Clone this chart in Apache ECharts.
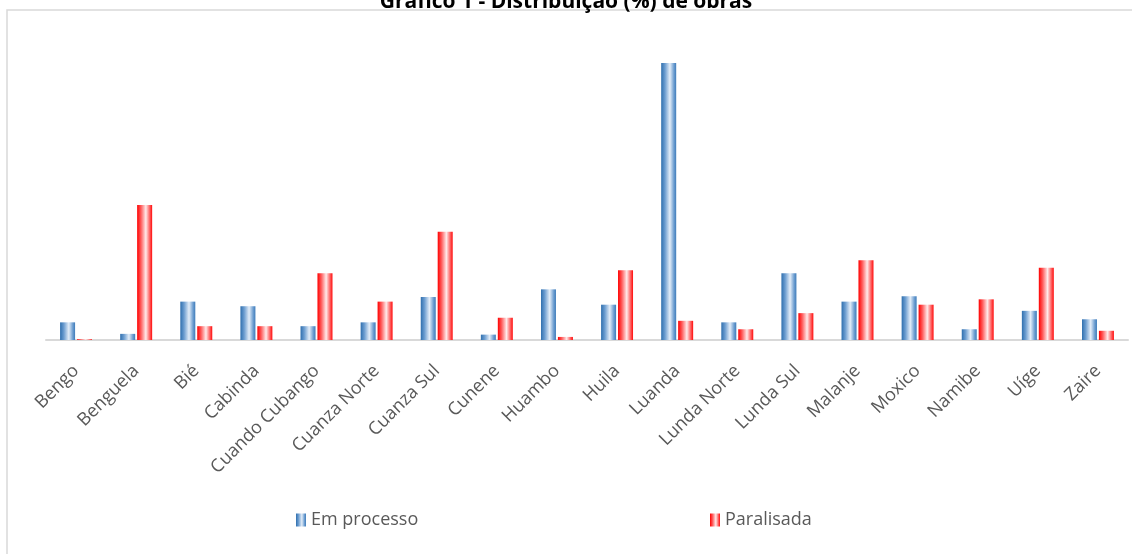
<!DOCTYPE html>
<html>
<head>
<meta charset="utf-8">
<script src="https://cdn.jsdelivr.net/npm/echarts@6/dist/echarts.min.js"></script>
<style>
  html, body { margin: 0; padding: 0; background: #ffffff; }
  #chart { width: 1132px; height: 554px; }
</style>
</head>
<body>
<div id="chart"></div>
<script>
// Províncias
const categories = ['Bengo', 'Benguela', 'Bié', 'Cabinda', 'Cuando Cubango', 'Cuanza Norte',
  'Cuanza Sul', 'Cunene', 'Huambo', 'Huila', 'Luanda', 'Lunda Norte', 'Lunda Sul',
  'Malanje', 'Moxico', 'Namibe', 'Uíge', 'Zaire'];

// Distribuição (%) de obras
const emProcesso = [2.3, 0.8, 5.0, 4.4, 1.8, 2.3, 5.6, 0.7, 6.6, 4.6, 36.1, 2.3, 8.7, 5.0, 5.7, 1.4, 3.8, 2.7];
const paralisada = [0.1, 17.6, 1.8, 1.8, 8.7, 5.0, 14.1, 2.9, 0.4, 9.1, 2.5, 1.4, 3.5, 10.4, 4.6, 5.3, 9.4, 1.2];

const seriesNames = ['Em processo', 'Paralisada'];

// Horizontal gradient giving each bar a rounded, cylinder-like shading
function cylinder(edge, mid, light, right) {
  return new echarts.graphic.LinearGradient(0, 0, 1, 0, [
    { offset: 0, color: edge },
    { offset: 0.25, color: mid },
    { offset: 0.58, color: light },
    { offset: 0.85, color: mid },
    { offset: 1, color: right }
  ]);
}

const blueFill = cylinder('#2f6fae', '#6c9dd0', '#e3edf8', '#3f7cba');
const redFill = cylinder('#ff0000', '#ff5a5a', '#ffeaea', '#ff0a0a');

const labelFont = 'Open Sans';

const chart = echarts.init(document.getElementById('chart'));
chart.setOption({
  animation: false,
  backgroundColor: '#ffffff',
  title: {
    text: 'Gráfico 1 - Distribuição (%) de obras',
    left: 'center',
    top: -13,
    textStyle: { fontFamily: labelFont, fontSize: 21, fontWeight: 'bold', color: '#000000' }
  },
  graphic: [{
    type: 'rect',
    shape: { x: 7, y: 10, width: 1140, height: 560 },
    style: { fill: 'none', stroke: '#d9d9d9', lineWidth: 1.5 },
    silent: true,
    z: -1
  }],
  legend: [{
    data: [seriesNames[0]],
    left: 291, top: 506,
    icon: 'rect', itemWidth: 10, itemHeight: 13, itemGap: 5,
    textStyle: { fontFamily: labelFont, fontSize: 18, color: '#595959' }
  }, {
    data: [seriesNames[1]],
    left: 705, top: 506,
    icon: 'rect', itemWidth: 10, itemHeight: 13, itemGap: 5,
    textStyle: { fontFamily: labelFont, fontSize: 18, color: '#595959' }
  }],
  grid: { left: 46, right: 4, top: 33, bottom: 214, containLabel: false },
  xAxis: {
    type: 'category',
    data: categories,
    axisLine: { lineStyle: { color: '#d9d9d9', width: 2 } },
    axisTick: { show: false },
    axisLabel: {
      rotate: 45, interval: 0, margin: 28,
      fontFamily: labelFont, fontSize: 18, color: '#595959'
    }
  },
  yAxis: {
    type: 'value', min: 0, max: 40,
    show: false,
    splitLine: { show: false }
  },
  series: [{
    name: seriesNames[0],
    type: 'bar',
    data: emProcesso,
    barWidth: 15,
    barGap: '13%',
    itemStyle: { color: blueFill }
  }, {
    name: seriesNames[1],
    type: 'bar',
    data: paralisada,
    barWidth: 15,
    barGap: '13%',
    itemStyle: { color: redFill }
  }]
});
</script>
</body>
</html>
